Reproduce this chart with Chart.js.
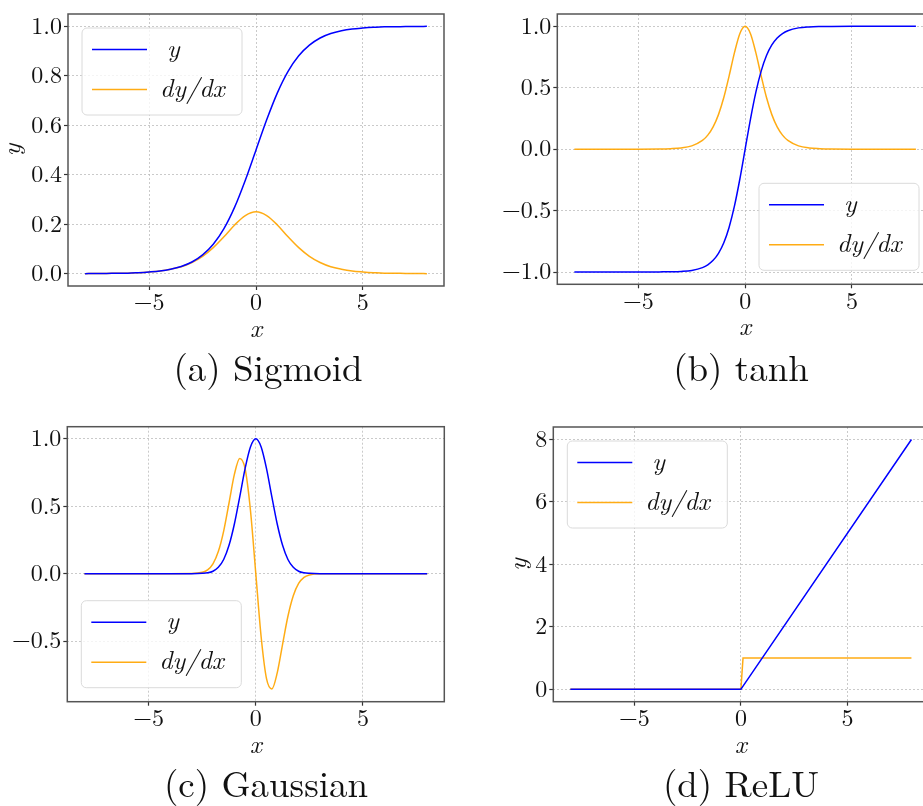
<!DOCTYPE html>
<html>
<head>
<meta charset="utf-8">
<script src="https://cdn.jsdelivr.net/npm/chart.js@4.4.0/dist/chart.umd.min.js"></script>
<style>
  html, body { margin: 0; padding: 0; background: #fff; overflow: hidden; }
  body { width: 923px; height: 806px; position: relative; }
  canvas { position: absolute; }
  .cap { position: absolute; width: 400px; text-align: center; white-space: nowrap;
         font-family: 'Latin Modern Roman', 'Liberation Serif', serif; font-size: 37px; line-height: 37px; color: #111; }
</style>
</head>
<body>
<canvas id="sigmoid"></canvas>
<canvas id="tanh"></canvas>
<canvas id="gauss"></canvas>
<canvas id="relu"></canvas>
<div class="cap" style="left:68px;top:347px">(a) Sigmoid</div>
<div class="cap" style="left:541px;top:347px">(b) tanh</div>
<div class="cap" style="left:66px;top:763px">(c) Gaussian</div>
<div class="cap" style="left:541px;top:763px">(d) ReLU</div>
<script>
// values
const xTicks = [-5, 0, 5];

const sigX  = [-8, -7.5, -7, -6.5, -6, -5.5, -5, -4.5, -4, -3.5, -3, -2.5, -2, -1.5, -1, -0.5, 0,
               0.5, 1, 1.5, 2, 2.5, 3, 3.5, 4, 4.5, 5, 5.5, 6, 6.5, 7, 7.5, 8];
const sigY  = [0.000, 0.001, 0.001, 0.002, 0.002, 0.004, 0.007, 0.011, 0.018, 0.029, 0.047, 0.076, 0.119, 0.182, 0.269, 0.378, 0.500,
               0.622, 0.731, 0.818, 0.881, 0.924, 0.953, 0.971, 0.982, 0.989, 0.993, 0.996, 0.998, 0.998, 0.999, 0.999, 1.000];
const sigDy = [0.000, 0.001, 0.001, 0.002, 0.002, 0.004, 0.007, 0.011, 0.018, 0.028, 0.045, 0.070, 0.105, 0.149, 0.197, 0.235, 0.250,
               0.235, 0.197, 0.149, 0.105, 0.070, 0.045, 0.028, 0.018, 0.011, 0.007, 0.004, 0.002, 0.002, 0.001, 0.001, 0.000];
const sigTicks = [0, 0.2, 0.4, 0.6, 0.8, 1.0];

const tanhX  = [-8, -7, -6, -5, -4, -3.5, -3, -2.5, -2, -1.75, -1.5, -1.25, -1, -0.75, -0.5, -0.25, 0,
                0.25, 0.5, 0.75, 1, 1.25, 1.5, 1.75, 2, 2.5, 3, 3.5, 4, 5, 6, 7, 8];
const tanhY  = [-1.000, -1.000, -1.000, -1.000, -0.999, -0.998, -0.995, -0.987, -0.964, -0.941, -0.905, -0.848, -0.762, -0.635, -0.462, -0.245, 0.000,
                0.245, 0.462, 0.635, 0.762, 0.848, 0.905, 0.941, 0.964, 0.987, 0.995, 0.998, 0.999, 1.000, 1.000, 1.000, 1.000];
const tanhDy = [0.000, 0.000, 0.000, 0.000, 0.001, 0.004, 0.010, 0.027, 0.071, 0.114, 0.181, 0.281, 0.420, 0.597, 0.786, 0.940, 1.000,
                0.940, 0.786, 0.597, 0.420, 0.281, 0.181, 0.114, 0.071, 0.027, 0.010, 0.004, 0.001, 0.000, 0.000, 0.000, 0.000];
const tanhTicks = [-1, -0.5, 0, 0.5, 1];

const gaussX  = [-8, -6, -4, -3, -2.5, -2.25, -2, -1.75, -1.5, -1.25, -1, -0.75, -0.5, -0.25, 0,
                 0.25, 0.5, 0.75, 1, 1.25, 1.5, 1.75, 2, 2.25, 2.5, 3, 4, 6, 8];
const gaussY  = [0.000, 0.000, 0.000, 0.000, 0.002, 0.006, 0.018, 0.047, 0.105, 0.210, 0.368, 0.570, 0.779, 0.939, 1.000,
                 0.939, 0.779, 0.570, 0.368, 0.210, 0.105, 0.047, 0.018, 0.006, 0.002, 0.000, 0.000, 0.000, 0.000];
const gaussDy = [0.000, 0.000, 0.000, 0.001, 0.010, 0.028, 0.073, 0.164, 0.316, 0.524, 0.736, 0.855, 0.779, 0.470, 0.000,
                 -0.470, -0.779, -0.855, -0.736, -0.524, -0.316, -0.164, -0.073, -0.028, -0.010, -0.001, 0.000, 0.000, 0.000];
const gaussTicks = [-0.5, 0, 0.5, 1];

const reluX  = [-8, 0, 0.1, 8];
const reluY  = [0, 0, 0.1, 8];
const reluDy = [0, 0, 1, 1];
const reluTicks = [0, 2, 4, 6, 8];

const BLUE = 'rgb(0,0,255)';
const ORANGE = 'rgba(255,165,0,0.92)';
const SERIF = '"Latin Modern Roman", "Liberation Serif", serif';

function fmt(v, digits) {
  return v.toFixed(digits).replace('-', '\u2212');
}

function zip(xs, ys) {
  return xs.map((x, i) => ({ x: x, y: ys[i] }));
}

function roundRect(ctx, x, y, w, h, r) {
  ctx.beginPath();
  ctx.moveTo(x + r, y);
  ctx.lineTo(x + w - r, y);
  ctx.arcTo(x + w, y, x + w, y + r, r);
  ctx.lineTo(x + w, y + h - r);
  ctx.arcTo(x + w, y + h, x + w - r, y + h, r);
  ctx.lineTo(x + r, y + h);
  ctx.arcTo(x, y + h, x, y + h - r, r);
  ctx.lineTo(x, y + r);
  ctx.arcTo(x, y, x + r, y, r);
  ctx.closePath();
}

// box round the plot area, all four sides
const frame = {
  id: 'frame',
  afterDatasetsDraw(chart) {
    const { ctx, chartArea: a } = chart;
    ctx.save();
    ctx.strokeStyle = '#555';
    ctx.lineWidth = 1.5;
    ctx.strokeRect(a.left, a.top, a.right - a.left, a.bottom - a.top);
    ctx.restore();
  }
};

// matplotlib-like legend drawn inside the axes
const boxLegend = {
  id: 'boxLegend',
  afterDatasetsDraw(chart, args, opts) {
    const { ctx, chartArea: a } = chart;
    const w = 160, h = 87, m = 14;
    const x = opts.corner[1] === 'l' ? a.left + m : a.right - m - w;
    const y = opts.corner[0] === 'u' ? a.top + m : a.bottom - m - h;
    ctx.save();
    roundRect(ctx, x, y, w, h, 5);
    ctx.fillStyle = 'rgba(255,255,255,0.8)';
    ctx.fill();
    ctx.strokeStyle = '#dadada';
    ctx.lineWidth = 1;
    ctx.stroke();
    chart.data.datasets.forEach((ds, i) => {
      const ly = y + 21.5 + i * 40;
      ctx.beginPath();
      ctx.moveTo(x + 10, ly);
      ctx.lineTo(x + 65, ly);
      ctx.strokeStyle = ds.borderColor;
      ctx.lineWidth = 1.5;
      ctx.stroke();
      ctx.fillStyle = '#111';
      ctx.font = 'italic 26px ' + SERIF;
      ctx.textBaseline = 'alphabetic';
      ctx.fillText(ds.label, x + (i === 0 ? 85 : 78), ly + 7);
    });
    ctx.restore();
  }
};

function makePanel(p) {
  const canvas = document.getElementById(p.id);
  canvas.width = p.width;
  canvas.height = p.height;
  canvas.style.left = p.left + 'px';
  canvas.style.top = p.top + 'px';

  const tickFont = { family: SERIF, size: 24, lineHeight: 1 };
  const titleFont = { family: SERIF, size: 26, style: 'italic', lineHeight: 1 };
  const grid = { color: '#bdbdbd', lineWidth: 0.8, tickLength: 4, tickColor: '#333', tickWidth: 1.2 };
  const border = { display: false, dash: [2, 2] };

  new Chart(canvas.getContext('2d'), {
    type: 'line',
    data: {
      datasets: [{
        label: 'y',
        data: zip(p.x, p.y),
        borderColor: BLUE,
        borderWidth: 1.5,
        pointRadius: 0,
        tension: p.smooth ? 0.4 : 0,
        cubicInterpolationMode: p.smooth ? 'monotone' : 'default'
      }, {
        label: 'dy/dx',
        data: zip(p.x, p.dy),
        borderColor: ORANGE,
        borderWidth: 1.5,
        pointRadius: 0,
        tension: p.smooth ? 0.4 : 0,
        cubicInterpolationMode: p.smooth ? 'monotone' : 'default'
      }]
    },
    options: {
      responsive: false,
      animation: false,
      devicePixelRatio: 1,
      layout: {
        padding: { left: 0, bottom: 0, top: p.area.t - p.top, right: p.left + p.width - p.area.r }
      },
      plugins: {
        legend: { display: false },
        tooltip: { enabled: false },
        boxLegend: { corner: p.corner }
      },
      scales: {
        x: {
          type: 'linear',
          min: -8.8,
          max: 8.8,
          afterBuildTicks: s => { s.ticks = xTicks.map(v => ({ value: v })); },
          afterFit: s => { s.height = p.top + p.height - p.area.b; },
          ticks: { callback: v => fmt(v, 0), font: tickFont, color: '#111', padding: 1, maxRotation: 0, autoSkip: false },
          grid: grid,
          border: border,
          title: { display: true, text: 'x', font: titleFont, color: '#111', padding: { top: 0, bottom: 0 } }
        },
        y: {
          type: 'linear',
          min: p.yMin,
          max: p.yMax,
          afterBuildTicks: s => { s.ticks = p.yTicks.map(v => ({ value: v })); },
          afterFit: s => { s.width = p.area.l - p.left; },
          ticks: { callback: v => fmt(v, p.digits), font: tickFont, color: '#111', padding: 2, autoSkip: false },
          grid: grid,
          border: border,
          title: { display: p.yTitle, text: 'y', font: titleFont, color: '#111', padding: { top: -1, bottom: 0 } }
        }
      }
    },
    plugins: [frame, boxLegend]
  });
}

makePanel({ id: 'sigmoid', left: 0, top: 0, width: 460, height: 342,
  area: { l: 68, r: 444, t: 11, b: 286 },
  x: sigX, y: sigY, dy: sigDy, yTicks: sigTicks, yMin: -0.05, yMax: 1.05, digits: 1,
  yTitle: true, corner: 'ul', smooth: true });

makePanel({ id: 'tanh', left: 500, top: 0, width: 450, height: 340,
  area: { l: 557.3, r: 933, t: 10, b: 284.3 },
  x: tanhX, y: tanhY, dy: tanhDy, yTicks: tanhTicks, yMin: -1.1, yMax: 1.1, digits: 1,
  yTitle: false, corner: 'lr', smooth: true });

makePanel({ id: 'gauss', left: 0, top: 400, width: 460, height: 358,
  area: { l: 67.3, r: 444.3, t: 426.7, b: 701.7 },
  x: gaussX, y: gaussY, dy: gaussDy, yTicks: gaussTicks, yMin: -0.95, yMax: 1.09, digits: 1,
  yTitle: false, corner: 'll', smooth: true });

makePanel({ id: 'relu', left: 506, top: 400, width: 450, height: 358,
  area: { l: 553.3, r: 928.5, t: 427, b: 701.7 },
  x: reluX, y: reluY, dy: reluDy, yTicks: reluTicks, yMin: -0.4, yMax: 8.4, digits: 0,
  yTitle: true, corner: 'ul', smooth: false });
</script>
</body>
</html>
